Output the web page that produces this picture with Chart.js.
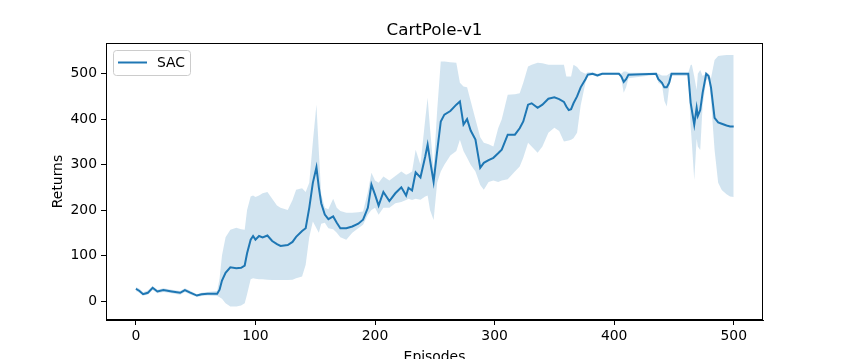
<!DOCTYPE html>
<html>
<head>
<meta charset="utf-8">
<script src="https://cdn.jsdelivr.net/npm/chart.js@4.4.0/dist/chart.umd.min.js"></script>
<style>
  html, body { margin: 0; padding: 0; background: #fff; }
  #wrap { width: 848px; height: 359px; }
</style>
</head>
<body>
<div id="wrap"><canvas id="myChart" width="848" height="359"></canvas></div>
<script>
// episodes where the curve was sampled
const episodes = [0, 3, 6, 10, 14, 18, 23, 30, 37, 41, 45, 51, 55, 60, 68, 70, 72, 75, 79, 84, 88, 91, 93, 96, 98,
    100, 103, 106, 110, 114, 118, 121, 127, 131, 134, 139, 142, 145, 148, 151, 153, 155, 158, 161, 165, 168, 171, 176,
    181, 186, 190, 194, 197, 200, 203, 207, 212, 217, 222, 226, 228, 231, 234, 238, 242, 244, 246, 249, 252, 255, 258,
    263, 268, 271, 274, 277, 280, 284, 288, 291, 295, 299, 303, 306, 311, 317, 321, 324, 328, 331, 336, 340, 345, 350,
    354, 358, 360, 362, 364, 366, 369, 372, 376, 378, 382, 386, 390, 404, 406, 408, 410, 412, 435, 437, 440, 442, 444,
    446, 448, 462, 464, 465, 467, 469, 470, 472, 474, 477, 479, 481, 484, 487, 490, 494, 497, 500];

// mean return (SAC)
const meanReturns = [27, 22, 15, 18, 29, 21, 24, 21, 18, 24, 19, 12, 15, 16, 16, 25, 45, 62, 74, 72, 73, 78, 105, 135, 143,
    135, 143, 140, 144, 132, 125, 121, 123, 130, 141, 154, 160, 205, 260, 294, 250, 215, 190, 180, 186, 172, 160, 160,
    164, 170, 179, 205, 256, 234, 210, 240, 220, 237, 250, 232, 249, 243, 283, 272, 318, 344, 310, 262, 330, 395, 410,
    418, 432, 439, 388, 400, 375, 355, 293, 304, 310, 315, 325, 333, 366, 366, 380, 395, 432, 435, 425, 432, 445, 448,
    444, 438, 428, 420, 422, 435, 450, 470, 488, 498, 500, 496, 500, 500, 494, 482, 488, 498, 500, 488, 480, 470, 470,
    480, 500, 500, 436, 420, 388, 425, 407, 420, 458, 500, 495, 470, 403, 393, 390, 386, 384, 384];

// lower edge of shaded band
const lowerBand = [22, 18, 12, 14, 24, 17, 20, 17, 14, 20, 15, 9, 11, 12, 11, 8, 5, -5, -12, -12, -10, -5, 15, 48, 50,
    49, 48, 48, 47, 46, 46, 46, 46, 47, 50, 54, 80, 140, 175, 160, 150, 170, 172, 160, 158, 150, 140, 135,
    150, 160, 168, 190, 200, 205, 190, 205, 205, 215, 218, 222, 225, 222, 225, 223, 230, 232, 200, 178, 260, 285, 300,
    320, 330, 355, 330, 315, 300, 285, 255, 245, 262, 265, 262, 265, 268, 285, 296, 315, 348, 340, 326, 340, 370, 381,
    374, 351, 352, 353, 355, 358, 370, 430, 480, 494, 497, 493, 498, 498, 488, 458, 470, 490, 498, 480, 475, 440, 428,
    470, 495, 495, 384, 347, 266, 357, 340, 332, 430, 485, 490, 442, 332, 260, 244, 235, 230, 229];

// upper edge of shaded band
const upperBand = [31, 27, 19, 23, 33, 25, 28, 25, 22, 28, 23, 15, 18, 20, 22, 50, 100, 140, 157, 161, 158, 157, 200, 230, 232,
    229, 232, 237, 240, 225, 210, 205, 200, 222, 245, 248, 240, 260, 350, 432, 330, 235, 205, 202, 225, 205, 198, 194,
    194, 195, 197, 240, 282, 265, 260, 274, 265, 275, 285, 278, 280, 285, 333, 300, 400, 447, 380, 290, 420, 527, 527,
    525, 524, 480, 472, 470, 440, 400, 360, 348, 345, 340, 380, 400, 454, 455, 457, 480, 516, 520, 524, 523, 520, 520,
    520, 520, 494, 494, 494, 520, 515, 505, 500, 503, 503, 500, 502, 502, 500, 505, 505, 502, 502, 500, 496, 496, 496,
    500, 502, 502, 519, 520, 494, 464, 500, 508, 495, 501, 500, 490, 530, 539, 540, 541, 541, 541];

const xTicks = [0, 100, 200, 300, 400, 500];
const yTicks = [0, 100, 200, 300, 400, 500];

const seriesLabel = 'SAC';
const chartTitle = 'CartPole-v1';
const xLabel = 'Episodes';
const yLabel = 'Returns';

const blue = '#1f77b4';
const FONT = '"DejaVu Sans", sans-serif';

function toPoints(values) {
    return episodes.map((ep, i) => ({ x: ep, y: values[i] }));
}

// titulo, etiquetas de ejes, marco y leyenda al estilo matplotlib
const decorations = {
    id: 'decorations',
    afterDraw(chart) {
        const { ctx, chartArea } = chart;
        const cx = (chartArea.left + chartArea.right) / 2;
        ctx.save();
        ctx.fillStyle = '#000';

        ctx.font = '16.7px ' + FONT;
        ctx.textAlign = 'center';
        ctx.textBaseline = 'alphabetic';
        ctx.fillText(chartTitle, cx, 35);

        ctx.font = '13.9px ' + FONT;
        ctx.fillText(xLabel, cx, 361);

        ctx.save();
        ctx.translate(62, (chartArea.top + chartArea.bottom) / 2);
        ctx.rotate(-Math.PI / 2);
        ctx.fillText(yLabel, 0, 0);
        ctx.restore();

        // marco completo
        ctx.strokeStyle = '#000';
        ctx.lineWidth = 1;
        ctx.strokeRect(chartArea.left + 0.5, chartArea.top + 0.5,
            chartArea.right - chartArea.left - 1, chartArea.bottom - chartArea.top - 1);

        // leyenda
        const lx = 113.5, ly = 50.5, lw = 77, lh = 25, r = 3;
        ctx.beginPath();
        ctx.moveTo(lx + r, ly);
        ctx.arcTo(lx + lw, ly, lx + lw, ly + lh, r);
        ctx.arcTo(lx + lw, ly + lh, lx, ly + lh, r);
        ctx.arcTo(lx, ly + lh, lx, ly, r);
        ctx.arcTo(lx, ly, lx + lw, ly, r);
        ctx.closePath();
        ctx.fillStyle = 'rgba(255,255,255,0.8)';
        ctx.fill();
        ctx.strokeStyle = '#cccccc';
        ctx.stroke();

        ctx.beginPath();
        ctx.moveTo(118, 62.5);
        ctx.lineTo(147, 62.5);
        ctx.strokeStyle = blue;
        ctx.lineWidth = 2;
        ctx.stroke();

        ctx.fillStyle = '#000';
        ctx.textAlign = 'left';
        ctx.textBaseline = 'middle';
        ctx.fillText(seriesLabel, 157, 63);
        ctx.restore();
    }
};

const ctx = document.getElementById('myChart').getContext('2d');

new Chart(ctx, {
    type: 'line',
    data: {
        datasets: [
            {
                label: 'upper',
                data: toPoints(upperBand),
                borderWidth: 0,
                borderColor: 'rgba(0,0,0,0)',
                backgroundColor: 'rgba(31,119,180,0.2)',
                fill: '+1',
                pointRadius: 0,
                tension: 0
            },
            {
                label: 'lower',
                data: toPoints(lowerBand),
                borderWidth: 0,
                borderColor: 'rgba(0,0,0,0)',
                fill: false,
                pointRadius: 0,
                tension: 0
            },
            {
                label: seriesLabel,
                data: toPoints(meanReturns),
                borderColor: blue,
                borderWidth: 2,
                fill: false,
                pointRadius: 0,
                tension: 0
            }
        ]
    },
    options: {
        responsive: false,
        animation: false,
        layout: { padding: { top: 43, right: 85, left: 0, bottom: 0 } },
        plugins: {
            legend: { display: false },
            title: { display: false },
            tooltip: { enabled: false }
        },
        scales: {
            x: {
                type: 'linear',
                min: -25,
                max: 524.5,
                afterBuildTicks: (scale) => { scale.ticks = xTicks.map(v => ({ value: v })); },
                afterFit: (scale) => { scale.height = 39; },
                ticks: { color: '#000', font: { family: FONT, size: 13.9 }, padding: 3, maxRotation: 0 },
                grid: { drawOnChartArea: false, drawTicks: true, tickLength: 5, color: '#000' },
                border: { display: true, color: '#000' }
            },
            y: {
                type: 'linear',
                min: -41.8,
                max: 567.6,
                afterBuildTicks: (scale) => { scale.ticks = yTicks.map(v => ({ value: v })); },
                afterFit: (scale) => { scale.width = 106; },
                ticks: { color: '#000', font: { family: FONT, size: 13.9 }, padding: 4 },
                grid: { drawOnChartArea: false, drawTicks: true, tickLength: 5, color: '#000' },
                border: { display: true, color: '#000' }
            }
        }
    },
    plugins: [decorations]
});
</script>
</body>
</html>
